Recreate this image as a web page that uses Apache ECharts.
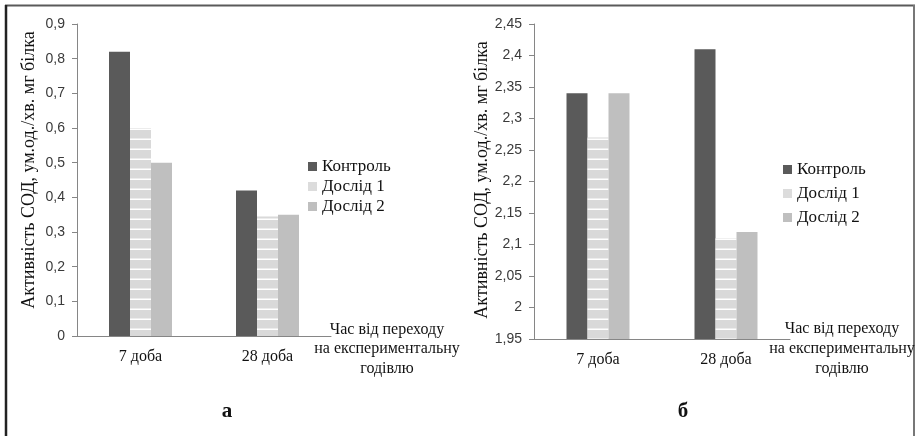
<!DOCTYPE html>
<html>
<head>
<meta charset="utf-8">
<script src="https://cdn.jsdelivr.net/npm/echarts@6/dist/echarts.min.js"></script>
<style>
  html, body { margin: 0; padding: 0; background: #fff; }
  #chart { width: 915px; height: 436px; }
</style>
</head>
<body>
<div id="chart"></div>
<script>
// Categories and series (SOD activity, conventional units/min per mg protein)
const categories = ['7 доба', '28 доба'];
const seriesNames = ['Контроль', 'Дослід 1', 'Дослід 2'];

// Panel "а"
const aControl = [0.82, 0.42];
const aTrial1 = [0.60, 0.345];
const aTrial2 = [0.50, 0.35];

// Panel "б"
const bControl = [2.34, 2.41];
const bTrial1 = [2.27, 2.11];
const bTrial2 = [2.34, 2.12];

const axisTitle = 'Активність СОД, ум.од./хв. мг білка';
const timeTitle = 'Час від переходу\nна експериментальну\nгодівлю';
const panelLabels = ['а', 'б'];

const SERIF = '"Liberation Serif", "DejaVu Serif", serif';
const SANS = '"Liberation Sans", "DejaVu Sans", sans-serif';

// Striped fill for "Дослід 1": light grey with thin white horizontal lines
function stripePattern() {
  const c = document.createElement('canvas');
  c.width = 4; c.height = 10;
  const ctx = c.getContext('2d');
  ctx.fillStyle = '#d9d9d9';
  ctx.fillRect(0, 0, 4, 10);
  ctx.fillStyle = '#ffffff';
  ctx.fillRect(0, 8.5, 4, 1.5);
  return c;
}
const stripe = { image: stripePattern(), repeat: 'repeat' };

const colors = ['#5a5a5a', stripe, '#bfbfbf'];
const legendColors = ['#5a5a5a', '#dcdcdc', '#bfbfbf'];

function fmt(v) {
  return String(parseFloat(v.toFixed(2))).replace('.', ',');
}

function yAxis(gridIndex, min, max, interval) {
  return {
    type: 'value', gridIndex, min, max, interval,
    axisLine: { show: true, lineStyle: { color: '#868686', width: 1 } },
    axisTick: { show: true, length: 5, lineStyle: { color: '#868686' } },
    splitLine: { show: false },
    axisLabel: { color: '#3a3a3a', fontFamily: SANS, fontSize: 14, margin: 12, formatter: fmt }
  };
}

function xAxis(gridIndex) {
  return {
    type: 'category', gridIndex, data: categories,
    axisLine: { show: true, lineStyle: { color: '#868686', width: 1 } },
    axisTick: { show: false },
    axisLabel: { color: '#111', fontFamily: SERIF, fontSize: 16, margin: 13 }
  };
}

function bars(idx, values, name, color) {
  return {
    type: 'bar', name, xAxisIndex: idx, yAxisIndex: idx, data: values,
    barWidth: 21, barGap: '0%',
    itemStyle: { color },
    emphasis: { disabled: true }
  };
}

function legend(left, top, gap) {
  return {
    left, top, orient: 'vertical', itemWidth: 9, itemHeight: 9, itemGap: gap,
    icon: 'rect', selectedMode: false, padding: 0,
    textStyle: { color: '#111', fontFamily: SERIF, fontSize: 17 },
    data: seriesNames.map((n, i) => ({ name: n, itemStyle: { color: legendColors[i] } }))
  };
}

function text(x, y, str, opts) {
  return Object.assign({
    type: 'text', x, y,
    style: Object.assign({
      text: str, fill: '#111', font: '16px ' + SERIF,
      align: 'center', verticalAlign: 'middle'
    }, opts.style || {})
  }, opts.el || {});
}

const chart = echarts.init(document.getElementById('chart'), null, { renderer: 'canvas' });

chart.setOption({
  animation: false,
  backgroundColor: '#fff',
  grid: [
    { left: 77, top: 24, width: 254, height: 312 },
    { left: 534, top: 24, width: 256, height: 315 }
  ],
  xAxis: [xAxis(0), xAxis(1)],
  yAxis: [yAxis(0, 0, 0.9, 0.1), yAxis(1, 1.95, 2.45, 0.05)],
  legend: [legend(308, 158, 3), legend(783, 161, 7)],
  series: [
    bars(0, aControl, seriesNames[0], colors[0]),
    bars(0, aTrial1, seriesNames[1], colors[1]),
    bars(0, aTrial2, seriesNames[2], colors[2]),
    bars(1, bControl, seriesNames[0], colors[0]),
    bars(1, bTrial1, seriesNames[1], colors[1]),
    bars(1, bTrial2, seriesNames[2], colors[2])
  ],
  graphic: [
    // frame
    { type: 'line', shape: { x1: 5, y1: 5.5, x2: 915, y2: 5.5 }, style: { stroke: '#5a5a5a', lineWidth: 2 } },
    { type: 'line', shape: { x1: 6, y1: 5, x2: 6, y2: 436 }, style: { stroke: '#222', lineWidth: 2.5 } },
    { type: 'line', shape: { x1: 914, y1: 5, x2: 914, y2: 436 }, style: { stroke: '#777', lineWidth: 2 } },
    // value axis titles
    text(29, 170, axisTitle, { el: { rotation: Math.PI / 2 }, style: { font: '18px ' + SERIF } }),
    text(482, 180, axisTitle, { el: { rotation: Math.PI / 2 }, style: { font: '18px ' + SERIF } }),
    // time axis titles
    text(387, 349, timeTitle, { style: { font: '16px ' + SERIF, lineHeight: 19.5 } }),
    text(842, 349, timeTitle, { style: { font: '16px ' + SERIF, lineHeight: 20 } }),
    // panel captions
    text(227, 412, panelLabels[0], { style: { font: 'bold 21px ' + SERIF } }),
    text(683, 412, panelLabels[1], { style: { font: 'bold 21px ' + SERIF } })
  ]
});
</script>
</body>
</html>
